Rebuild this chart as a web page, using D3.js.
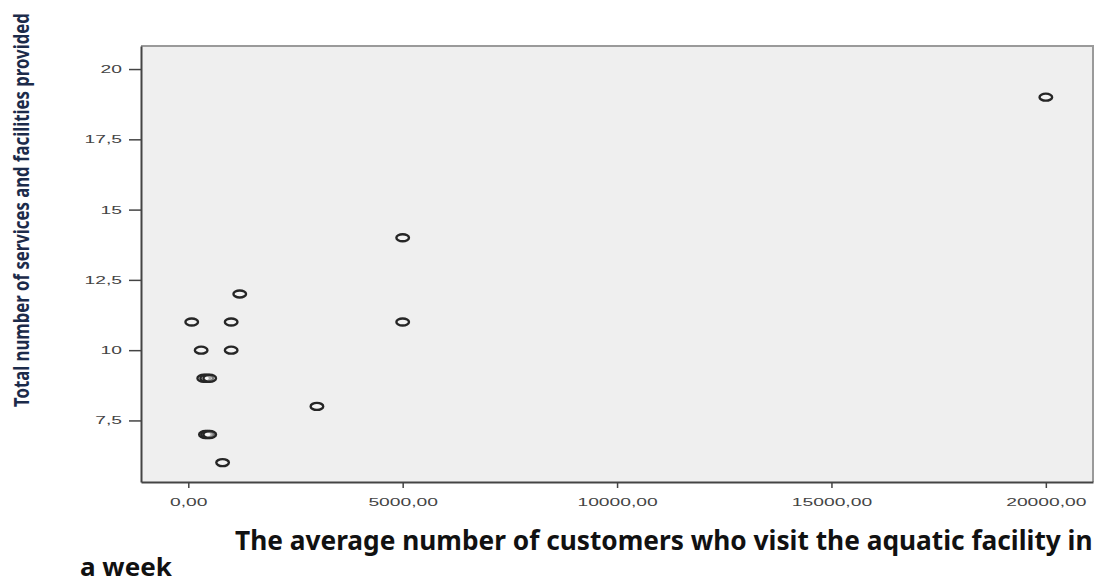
<!DOCTYPE html>
<html>
<head>
<meta charset="utf-8">
<script src="https://cdn.jsdelivr.net/npm/d3@7"></script>
<style>
    body { margin: 0; background: #fff; }
    .tick text { font-family: "Liberation Sans", Arial, sans-serif; font-size: 11px; fill: #444; }
    .axis-title { font-family: "Noto Sans", sans-serif; font-weight: bold; fill: #111; }
</style>
</head>
<body>
<div id="chart"></div>
<script>
const visitors = [20000, 5000, 5000, 1200, 80, 1000, 300, 1000, 360, 430, 500, 3000, 400, 450, 500, 800];
const services = [19, 14, 11, 12, 11, 11, 10, 10, 9, 9, 9, 8, 7, 7, 7, 6];
const xTicks = [0, 5000, 10000, 15000, 20000];
const yTicks = [7.5, 10, 12.5, 15, 17.5, 20];

const xTitle = "The average number of customers who visit the aquatic facility in";
const xTitle2 = "a week";
const yTitle = "Total number of services and facilities provided";

// squeeze a title sideways so it fills the given width
function fitTitle(sel, x, y, width, rotate) {
    const w = sel.node().getComputedTextLength();
    sel.attr("transform", `translate(${x}, ${y})${rotate ? " rotate(-90)" : ""} scale(${width / w}, 1)`);
}

function createScatter() {
    const plot = { left: 141, top: 46, right: 1093, bottom: 482 };
    const locale = d3.formatLocale({ decimal: ",", thousands: ".", grouping: [3], currency: ["", ""] });

    const svg = d3.select("#chart")
        .append("svg")
        .attr("width", 1104)
        .attr("height", 584);

    const x = d3.scaleLinear()
        .domain([-1103, 21100])
        .range([plot.left, plot.right]);

    const y = d3.scaleLinear()
        .domain([5.31, 20.82])
        .range([plot.bottom, plot.top]);

    svg.append("rect")
        .attr("x", plot.left)
        .attr("y", plot.top)
        .attr("width", plot.right - plot.left)
        .attr("height", plot.bottom - plot.top)
        .attr("fill", "#efefef");

    // top and right frame are lighter than the axes
    svg.append("path")
        .attr("d", `M${plot.left},${plot.top}H${plot.right}V${plot.bottom}`)
        .attr("fill", "none")
        .attr("stroke", "#9a9a9a")
        .attr("stroke-width", 2);

    const xAxis = svg.append("g")
        .attr("transform", `translate(0, ${plot.bottom})`)
        .call(d3.axisBottom(x)
            .tickValues(xTicks)
            .tickSize(6)
            .tickSizeOuter(0)
            .tickPadding(10)
            .tickFormat(locale.format(".2f")));

    const yAxis = svg.append("g")
        .attr("transform", `translate(${plot.left}, 0)`)
        .call(d3.axisLeft(y)
            .tickValues(yTicks)
            .tickSize(12)
            .tickSizeOuter(0)
            .tickPadding(7)
            .tickFormat(locale.format("~g")));

    [xAxis, yAxis].forEach(axis => {
        axis.select(".domain").attr("stroke", "#444").attr("stroke-width", 2);
        axis.selectAll(".tick line").attr("stroke", "#444").attr("stroke-width", 1.5);
        // the labels in the picture are stretched sideways
        axis.selectAll(".tick text").each(function () {
            const w = this.getComputedTextLength();
            d3.select(this)
                .attr("textLength", w * 1.75)
                .attr("lengthAdjust", "spacingAndGlyphs");
        });
    });

    svg.append("g")
        .selectAll("ellipse")
        .data(visitors.map((v, i) => ({ visitors: v, services: services[i] })))
        .join("ellipse")
        .attr("cx", d => x(d.visitors))
        .attr("cy", d => y(d.services))
        .attr("rx", 6.3)
        .attr("ry", 3.5)
        .attr("fill", "#fafafa")
        .attr("fill-opacity", 0.4)
        .attr("stroke", "#262626")
        .attr("stroke-width", 2.4);

    const t1 = svg.append("text")
        .attr("class", "axis-title")
        .attr("font-size", 27)
        .text(xTitle);
    fitTitle(t1, 235, 550, 858, false);

    const t2 = svg.append("text")
        .attr("class", "axis-title")
        .attr("font-size", 25)
        .text(xTitle2);
    fitTitle(t2, 80, 576, 92, false);

    const t3 = svg.append("text")
        .attr("class", "axis-title")
        .attr("font-size", 21)
        .style("fill", "#1c2b4a")
        .text(yTitle);
    fitTitle(t3, 29, 407, 394, true);
}

createScatter();
</script>
</body>
</html>
